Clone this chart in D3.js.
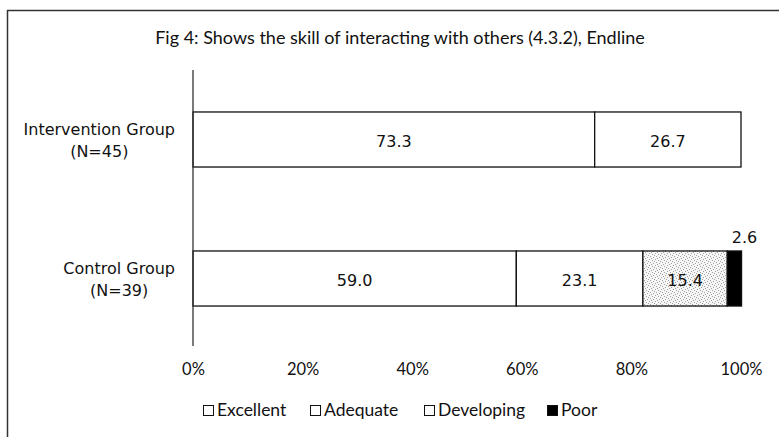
<!DOCTYPE html>
<html>
<head>
<meta charset="utf-8">
<script src="https://cdn.jsdelivr.net/npm/d3@7/dist/d3.min.js"></script>
<style>
  html, body { margin: 0; padding: 0; background: #fff; }
  svg { display: block; }
</style>
</head>
<body>
<svg id="chart" width="779" height="437"></svg>
<script>
// Endline ratings of the skill of interacting with others, by group
const groups = ["Intervention Group|(N=45)", "Control Group|(N=39)"];
const categories = ["Excellent", "Adequate", "Developing", "Poor"];
const excellent = [73.3, 59.0];
const adequate = [26.7, 23.1];
const developing = [0, 15.4];
const poor = [0, 2.6];
const tickValues = [0, 20, 40, 60, 80, 100];
const title = "Fig 4: Shows the skill of interacting with others (4.3.2), Endline";

const svg = d3.select("#chart");
const labelFont = "'DejaVu Sans', Verdana, sans-serif";
const textFont = "Lato, 'Open Sans', sans-serif";

// dotted fill for the "Developing" segments
const defs = svg.append("defs");
const pat = defs.append("pattern")
  .attr("id", "stipple").attr("patternUnits", "userSpaceOnUse")
  .attr("width", 6).attr("height", 6);
pat.append("rect").attr("width", 6).attr("height", 6).attr("fill", "#f6f6f6");
[[1,1],[4,2],[2,4],[5,5],[0,3],[3,0]].forEach(([px, py]) =>
  pat.append("rect").attr("x", px).attr("y", py).attr("width", 1).attr("height", 1).attr("fill", "#a0a0a0"));

const fills = {
  Excellent: "#ffffff",
  Adequate: "#ffffff",
  Developing: "url(#stipple)",
  Poor: "#000000"
};

// outer frame (top and left edges)
svg.append("line").attr("x1", 7).attr("x2", 779).attr("y1", 10.5).attr("y2", 10.5)
  .attr("stroke", "#333").attr("stroke-width", 1.5);
svg.append("line").attr("x1", 7.5).attr("x2", 7.5).attr("y1", 10).attr("y2", 437)
  .attr("stroke", "#333").attr("stroke-width", 1.5);

svg.append("text").attr("x", 400).attr("y", 44).attr("text-anchor", "middle")
  .attr("font-family", textFont).attr("font-size", 18).attr("fill", "#111")
  .text(title);

const x = d3.scaleLinear().domain([0, 100]).range([193, 741]);
const y = d3.scaleBand().domain(groups).range([70, 348]).paddingInner(0.604).paddingOuter(0.302);

const rows = groups.map((g, i) => ({
  group: g,
  values: [excellent[i], adequate[i], developing[i], poor[i]]
}));

const stack = rows.map(r => {
  let acc = 0;
  return r.values.map((v, j) => {
    const seg = { group: r.group, cat: categories[j], v, x0: acc, x1: acc + v };
    acc += v;
    return seg;
  }).filter(s => s.v > 0);
});

const barG = svg.append("g");
stack.flat().forEach(s => {
  barG.append("rect")
    .attr("x", x(s.x0)).attr("y", y(s.group))
    .attr("width", x(s.x1) - x(s.x0)).attr("height", y.bandwidth())
    .attr("fill", fills[s.cat]).attr("stroke", "#111").attr("stroke-width", 1.3);
});

// value labels: inside the wider segments, above the thin "Poor" segment
stack.flat().forEach(s => {
  const inside = s.v > 5;
  barG.append("text")
    .attr("x", inside ? (x(s.x0) + x(s.x1)) / 2 : x(s.x1) + 3)
    .attr("y", inside ? y(s.group) + y.bandwidth() / 2 + 7.5 : y(s.group) - 8)
    .attr("text-anchor", "middle")
    .attr("font-family", labelFont).attr("font-size", 16).attr("fill", "#111")
    .text(s.v.toFixed(1));
});

// vertical category axis line
svg.append("line").attr("x1", 193).attr("x2", 193).attr("y1", 70).attr("y2", 346)
  .attr("stroke", "#333").attr("stroke-width", 1.3);

// category labels: each line centred, block right-aligned near the axis
groups.forEach(g => {
  const [l1, l2] = g.split("|");
  const cy = y(g) + y.bandwidth() / 2;
  const t = svg.append("text").attr("text-anchor", "middle")
    .attr("font-family", labelFont).attr("font-size", 16).attr("fill", "#111");
  const a = t.append("tspan").attr("y", cy - 5).text(l1);
  const b = t.append("tspan").attr("y", cy + 17).text(l2);
  const w = Math.max(a.node().getComputedTextLength(), b.node().getComputedTextLength());
  const cx = 175 - w / 2;
  a.attr("x", cx);
  b.attr("x", cx);
});

// percentage axis
const axis = d3.axisBottom(x).tickValues(tickValues).tickSize(0).tickFormat(d => d + "%");
const ax = svg.append("g").attr("transform", "translate(0,375)").call(axis);
ax.select(".domain").remove();
ax.selectAll("text").attr("font-family", textFont).attr("font-size", 16.5).attr("fill", "#111").attr("dy", 0).attr("y", 0);

// legend
const legendX = [203, 310, 424, 547];
const lg = svg.append("g");
categories.forEach((c, i) => {
  const g = lg.append("g").attr("transform", `translate(${legendX[i]},416)`);
  g.append("rect").attr("x", 0.5).attr("y", -10.5).attr("width", 10).attr("height", 10)
    .attr("fill", c === "Poor" ? "#000" : "#fff").attr("stroke", "#111").attr("stroke-width", 1);
  g.append("text").attr("x", 14).attr("y", 0).attr("font-family", textFont)
    .attr("font-size", 17.5).attr("fill", "#111").text(c);
});
</script>
</body>
</html>
